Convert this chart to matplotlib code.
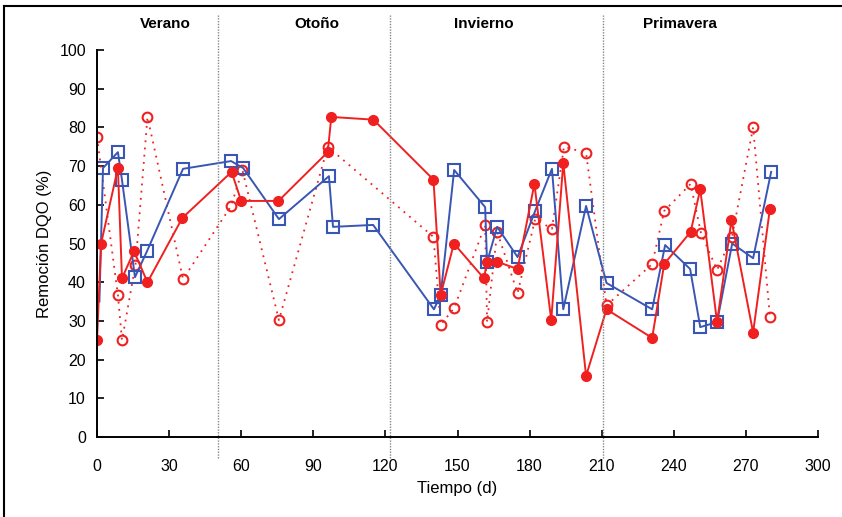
import matplotlib
matplotlib.use("Agg")
import matplotlib.pyplot as plt
from matplotlib.lines import Line2D

# Serie 1: remoción (círculos rojos rellenos, línea continua)
dias_r = [0, 1.7, 8.7, 10.4, 15.4, 21, 35.5, 56, 60, 75.5, 96, 97.5, 115, 140, 143,
          148.5, 161, 162.3, 166.5, 175, 182, 189, 194, 203.5, 212, 231, 236, 247,
          251, 258, 264, 273, 280]
rem_r = [25, 50, 69.5, 41, 48, 40, 56.6, 68.5, 61, 61, 73.6, 82.7, 82, 66.5, 36.7,
         50, 41, 45.3, 45.3, 43.4, 65.4, 30.2, 70.8, 15.8, 33, 25.6, 44.7, 53,
         64, 29.7, 56, 27, 59]

# Serie 2: remoción (cuadrados azules, línea continua)
dias_b = [1, 2.5, 8.7, 10.4, 15.8, 20.8, 35.8, 55.8, 60.8, 75.7, 96.5, 98.2, 114.9,
          140.2, 143, 148.6, 161.5, 162.3, 166.5, 175, 182.3, 189.3, 194, 203.5, 212,
          231, 236.4, 246.8, 251, 258, 264.3, 273, 280.5]
rem_b = [35, 69.5, 73.6, 66.4, 41.3, 48, 69.3, 71.3, 69.5, 56.3, 67.4, 54.3, 54.8,
         33, 36.7, 69, 59.4, 45.2, 54.3, 46.5, 58.4, 69.3, 33, 59.7, 39.8,
         33, 49.6, 43.4, 28.4, 29.7, 50, 46.2, 68.5]

# Serie 3: remoción (círculos rojos abiertos, línea punteada)
dias_o = [0, 8.7, 10.4, 16, 21, 35.8, 55.8, 60.5, 75.7, 96, 140, 143, 148.6, 161.5,
          162.3, 166.5, 175, 182.3, 189.3, 194.3, 203.5, 212, 231, 236, 247, 251.3,
          258, 264.2, 273, 280]
rem_o = [77.5, 36.7, 25, 44.4, 82.7, 40.8, 59.7, 69, 30.2, 75, 51.7, 29, 33.3, 54.8,
         29.7, 53, 37.2, 56.3, 53.8, 75, 73.4, 34, 44.7, 58.4, 65.4, 52.7,
         43.2, 51.7, 80, 31]

estaciones = ["Verano", "Otoño", "Invierno", "Primavera"]
pos_estaciones = [28.3, 91.5, 161, 242.6]
limites = [50.3, 122, 210.5]

rojo = "#f02020"
azul = "#3a56b4"
plt.rcParams["font.family"] = ["Liberation Sans", "DejaVu Sans"]

fig = plt.figure(figsize=(8.42, 5.17), dpi=100)
ax = fig.add_axes([0.1152, 0.1547, 0.8563, 0.7486])

ax.plot(dias_o, rem_o, color=rojo, ls=(0, (1, 3)), lw=1.3, marker="o", ms=7,
        mfc="none", mec=rojo, mew=1.5)
ax.plot(dias_b, rem_b, color=azul, lw=1.4, marker="s", ms=8,
        mfc="none", mec=azul, mew=1.5, markevery=list(range(1, len(dias_b))))
ax.plot(dias_r, rem_r, color=rojo, lw=1.4, marker="o", ms=7,
        mfc=rojo, mec=rojo)

ax.vlines(limites, -0.054, 1.09, transform=ax.get_xaxis_transform(),
          colors="#888888", linestyles=(0, (1, 1)), lw=1, clip_on=False)
for est, xe in zip(estaciones, pos_estaciones):
    ax.text(xe, 1.067, est, transform=ax.get_xaxis_transform(), ha="center",
            va="center", fontsize=11, fontweight="bold")

ax.set_xlim(0, 300)
ax.set_ylim(0, 100)
ax.set_xticks(range(0, 301, 30))
ax.set_yticks(range(0, 101, 10))
ax.tick_params(direction="in", length=5, width=1.2, labelsize=11.5, pad=8)
ax.tick_params(axis="x", pad=16)
for s in ["top", "right"]:
    ax.spines[s].set_visible(False)
for s in ["left", "bottom"]:
    ax.spines[s].set_linewidth(1.4)

ax.set_xlabel("Tiempo (d)", fontsize=12, labelpad=5)
ax.set_ylabel("Remoción DQO (%)", fontsize=12, labelpad=5)

# marco de la figura
fig.add_artist(Line2D([0.005, 1], [0.988, 0.988], color="black", lw=1.5,
                      transform=fig.transFigure))
fig.add_artist(Line2D([0.005, 0.005], [0, 0.988], color="black", lw=1.5,
                      transform=fig.transFigure))

fig.savefig("out.png", dpi=100)
